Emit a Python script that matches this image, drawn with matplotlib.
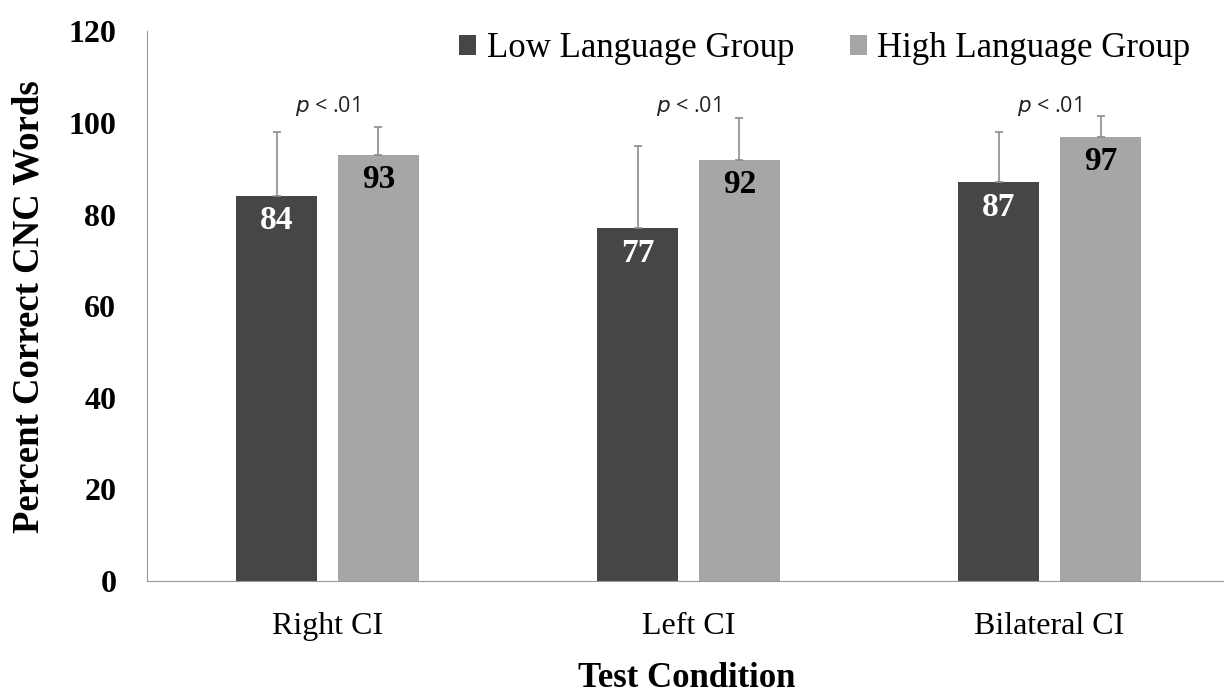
import numpy as np
import matplotlib.pyplot as plt

conditions = ['Right CI', 'Left CI', 'Bilateral CI']
low_group = [84, 77, 87]
high_group = [93, 92, 97]
low_err = [14, 18, 11]
high_err = [6, 9, 4.5]
p_labels = ['< .01', '< .01', '< .01']

dark = '#464646'
light = '#a6a6a6'
serif = 'Liberation Serif'

fig = plt.figure(figsize=(12.24, 6.95), dpi=100)
ax = fig.add_axes([0.120, 0.164, 0.880, 0.791])

x = np.arange(len(conditions))
w = 0.225
off = 0.141

ax.bar(x - off, low_group, w, color=dark, label='Low Language Group')
ax.bar(x + off, high_group, w, color=light, label='High Language Group')
ax.errorbar(x - off, low_group, yerr=[np.zeros(3), low_err], fmt='none',
            ecolor='#8c8c8c', elinewidth=1.2, capsize=3, capthick=1.2)
ax.errorbar(x + off, high_group, yerr=[np.zeros(3), high_err], fmt='none',
            ecolor='#8c8c8c', elinewidth=1.2, capsize=3, capthick=1.2)

for i in range(len(conditions)):
    ax.text(x[i] - off, low_group[i] - 5.4, str(low_group[i]), ha='center', va='center',
            color='white', fontsize=24, fontweight='bold', family=serif)
    ax.text(x[i] + off, high_group[i] - 5.4, str(high_group[i]), ha='center', va='center',
            color='black', fontsize=24, fontweight='bold', family=serif)
    ax.text(x[i], 103.6, '$p$ ' + p_labels[i], ha='center', va='center',
            fontsize=15.5, family='Open Sans', color='#222222')

ax.set_ylim(0, 120)
ax.set_xlim(-0.5, 2.483)
ax.set_yticks(range(0, 121, 20))
ax.set_xticks(x)
ax.set_xticklabels(conditions, fontsize=23, family=serif)
for t in ax.get_yticklabels():
    t.set_fontsize(23)
    t.set_fontweight('bold')
    t.set_family(serif)
ax.tick_params(axis='both', length=0)
ax.tick_params(axis='x', pad=22)
ax.tick_params(axis='y', pad=22)

ax.spines['top'].set_visible(False)
ax.spines['right'].set_visible(False)
ax.spines['left'].set_color('#999999')
ax.spines['bottom'].set_color('#999999')

fig.text(0.024, 0.164 + 0.791 / 2, 'Percent Correct CNC Words', rotation=90, ha='center', va='center',
         fontsize=26.5, fontweight='bold', family=serif)
fig.text(0.561, 0.0, 'Test Condition', ha='center', va='bottom',
         fontsize=25, fontweight='bold', family=serif)

ax.legend(loc='upper right', bbox_to_anchor=(0.998, 1.055), ncol=2, frameon=False,
          prop={'family': serif, 'size': 25}, handlelength=0.5, handleheight=0.5,
          handletextpad=0.3, columnspacing=1.6)

plt.savefig('out.png', dpi=100)
plt.close()
